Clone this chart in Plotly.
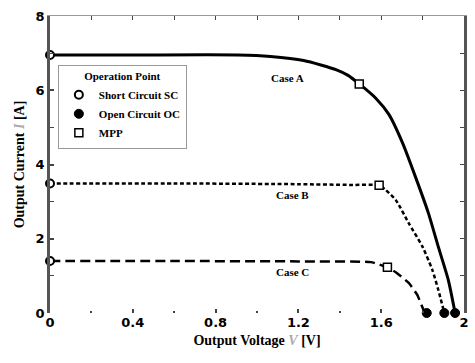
import plotly.graph_objects as go

# I-V characteristics of the module for three operating cases
case_a_v = [0.0, 0.4, 0.907, 1.065, 1.226, 1.384, 1.44, 1.494, 1.575, 1.637, 1.704, 1.766, 1.828, 1.876, 1.924, 1.957]
case_a_i = [6.95, 6.95, 6.95, 6.91, 6.80, 6.55, 6.40, 6.17, 5.78, 5.35, 4.57, 3.66, 2.69, 1.78, 0.89, 0.0]

case_b_v = [0.0, 0.6, 1.2, 1.45, 1.59, 1.623, 1.671, 1.733, 1.80, 1.847, 1.876, 1.905]
case_b_i = [3.49, 3.49, 3.47, 3.45, 3.44, 3.31, 3.04, 2.42, 1.78, 1.16, 0.62, 0.0]

case_c_v = [0.0, 0.6, 1.2, 1.55, 1.63, 1.67, 1.733, 1.775, 1.805, 1.82]
case_c_i = [1.40, 1.40, 1.39, 1.37, 1.23, 1.10, 0.81, 0.48, 0.08, 0.0]

# operating points: short circuit, open circuit, maximum power point
sc_v = [0.0, 0.0, 0.0]
sc_i = [6.95, 3.49, 1.40]
oc_v = [1.957, 1.905, 1.82]
oc_i = [0.0, 0.0, 0.0]
mpp_v = [1.494, 1.59, 1.63]
mpp_i = [6.17, 3.44, 1.23]

case_labels = ["Case A", "Case B", "Case C"]
label_v = [1.146, 1.17, 1.17]
label_i = [6.34, 3.17, 1.10]

x_ticks = [0, 0.4, 0.8, 1.2, 1.6, 2]
x_tick_text = ["0", "0.4", "0.8", "1.2", "1.6", "2"]
y_ticks = [0, 2, 4, 6, 8]
y_tick_text = ["0", "2", "4", "6", "8"]

serif = "Liberation Serif"
sans = "DejaVu Sans"


def bold(labels):
    return ["<b>%s</b>" % s for s in labels]


fig = go.Figure()

fig.add_trace(go.Scatter(x=case_a_v, y=case_a_i, mode="lines", showlegend=False,
                         line=dict(color="black", width=3, shape="spline", smoothing=0.6)))
fig.add_trace(go.Scatter(x=case_b_v, y=case_b_i, mode="lines", showlegend=False,
                         line=dict(color="black", width=2.5, dash="4px,2.5px", shape="spline", smoothing=0.6)))
fig.add_trace(go.Scatter(x=case_c_v, y=case_c_i, mode="lines", showlegend=False,
                         line=dict(color="black", width=2.5, dash="10px,5px", shape="spline", smoothing=0.4)))

fig.add_trace(go.Scatter(x=sc_v, y=sc_i, mode="markers", name="<b>Short Circuit SC</b>", cliponaxis=False,
                         marker=dict(symbol="circle", size=8, color="white",
                                     line=dict(color="black", width=2))))
fig.add_trace(go.Scatter(x=oc_v, y=oc_i, mode="markers", name="<b>Open Circuit OC</b>", cliponaxis=False,
                         marker=dict(symbol="circle", size=9, color="black",
                                     line=dict(color="black", width=1))))
fig.add_trace(go.Scatter(x=mpp_v, y=mpp_i, mode="markers", name="<b>MPP</b>", cliponaxis=False,
                         marker=dict(symbol="square", size=8, color="white",
                                     line=dict(color="black", width=1.5))))

for txt, v, i in zip(case_labels, label_v, label_i):
    fig.add_annotation(x=v, y=i, text="<b>%s</b>" % txt, showarrow=False,
                       font=dict(family=serif, size=11, color="black"))

tick_font = dict(family=sans, size=13, color="black")
title_font = dict(family=serif, size=14, color="black")

fig.update_layout(
    width=475, height=363,
    margin=dict(l=50, r=6, t=16, b=50),
    paper_bgcolor="white", plot_bgcolor="white",
    showlegend=True,
    legend=dict(
        x=0.019, y=0.835, xanchor="left", yanchor="top",
        bgcolor="white", bordercolor="#999999", borderwidth=1,
        font=dict(family=serif, size=11, color="black"),
        title=dict(text="<b>Operation Point</b>", side="top center",
                   font=dict(family=serif, size=11, color="black")),
        itemwidth=30,
    ),
    xaxis=dict(
        range=[0, 2], showgrid=False, zeroline=False, showline=False,
        tickmode="array", tickvals=x_ticks, ticktext=bold(x_tick_text),
        ticks="inside", ticklen=4, tickcolor="#444", tickwidth=1.5,
        minor=dict(ticks="inside", ticklen=2, dtick=0.2, tick0=0, tickcolor="#444", tickwidth=1.5),
        tickfont=tick_font,
        title=dict(text="<b>Output Voltage <i><span style='color:#aaaaaa'>V</span></i> [V]</b>",
                   font=title_font, standoff=6),
    ),
    xaxis2=dict(
        range=[0, 2], overlaying="x", side="top", showgrid=False, zeroline=False,
        showline=True, linecolor="#999999", linewidth=1,
        tickmode="array", tickvals=[0.2, 0.4, 0.6, 0.8, 1.0, 1.2, 1.4, 1.6, 1.8],
        ticks="inside", ticklen=4, tickcolor="#444", showticklabels=False,
    ),
    yaxis=dict(
        range=[0, 8], showgrid=False, zeroline=False,
        showline=True, linecolor="#555555", linewidth=2.5,
        tickmode="array", tickvals=y_ticks, ticktext=bold(y_tick_text),
        ticks="inside", ticklen=4, tickcolor="#444", tickwidth=1.5,
        minor=dict(ticks="inside", ticklen=4, dtick=1, tick0=0, tickcolor="#444", tickwidth=1),
        tickfont=tick_font,
        title=dict(text="<b>Output Current <i><span style='color:#aaaaaa'>I</span></i> [A]</b>",
                   font=title_font, standoff=8),
    ),
    yaxis2=dict(
        range=[0, 8], overlaying="y", side="right", showgrid=False, zeroline=False,
        showline=True, linecolor="#555555", linewidth=2.5,
        tickmode="array", tickvals=[1, 2, 3, 4, 5, 6, 7],
        ticks="inside", ticklen=4, tickcolor="#444", showticklabels=False,
    ),
)

# invisible traces so the mirrored axes are drawn
fig.add_trace(go.Scatter(x=[0, 2], y=[0, 8], xaxis="x2", yaxis="y2", mode="markers",
                         marker=dict(opacity=0), showlegend=False, hoverinfo="skip"))

fig.write_html("out.html")
